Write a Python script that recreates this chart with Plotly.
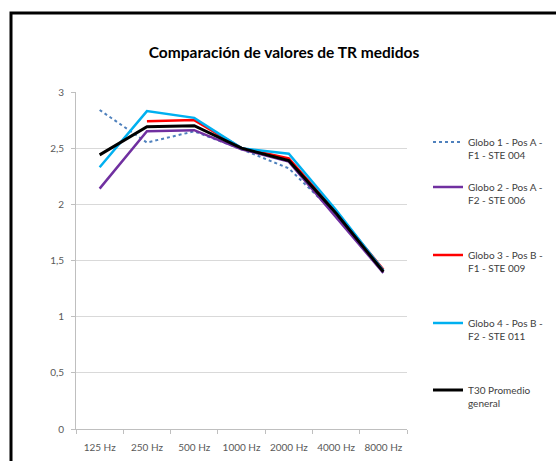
import plotly.graph_objects as go

categories = ["125 Hz", "250 Hz", "500 Hz", "1000 Hz", "2000 Hz", "4000 Hz", "8000 Hz"]
globo1 = [2.84, 2.55, 2.65, 2.49, 2.32, 1.91, 1.40]
globo2 = [2.14, 2.65, 2.66, 2.49, 2.38, 1.89, 1.39]
globo3 = [None, 2.74, 2.75, 2.50, 2.41, 1.93, 1.42]
globo4 = [2.33, 2.83, 2.77, 2.50, 2.45, 1.95, 1.41]
promedio = [2.44, 2.69, 2.70, 2.50, 2.39, 1.92, 1.40]
names = [
    "Globo 1 - Pos A -<br>F1 - STE 004",
    "Globo 2 - Pos A -<br>F2 - STE 006",
    "Globo 3 - Pos B -<br>F1 - STE 009",
    "Globo 4 - Pos B -<br>F2 - STE 011",
    "T30 Promedio<br>general",
]
y_ticks = [0, 0.5, 1, 1.5, 2, 2.5, 3]

FONT = "Lato"
series = [globo1, globo2, globo3, globo4, promedio]
colors = ["#4f81bd", "#7030a0", "#ff0000", "#00b0f0", "#000000"]
dashes = ["dot", "solid", "solid", "solid", "solid"]
widths = [2, 2.5, 2.5, 2.5, 3]
legend_ids = ["legend", "legend2", "legend3", "legend4", "legend5"]
legend_py = [140, 185, 253, 321, 388]

W, H = 556, 461
L, R, T, B = 76, 149, 92, 32
plot_w = W - L - R
plot_h = H - T - B

fig = go.Figure()
for vals, nm, c, d, w, lg in zip(series, names, colors, dashes, widths, legend_ids):
    fig.add_trace(go.Scatter(
        x=categories, y=vals, name=nm, mode="lines",
        line=dict(color=c, dash=d, width=w),
        legend=lg, connectgaps=False,
    ))

layout_legends = {}
for lg, py in zip(legend_ids, legend_py):
    layout_legends[lg] = dict(
        x=(428 - L) / plot_w, xanchor="left",
        y=(H - B - (py - 11)) / plot_h, yanchor="top",
        valign="top",
        font=dict(family=FONT, size=10, color="#404040"),
        bgcolor="rgba(0,0,0,0)",
        itemwidth=30,
    )

fig.update_layout(
    width=W, height=H,
    margin=dict(l=L, r=R, t=T, b=B, autoexpand=False),
    paper_bgcolor="white", plot_bgcolor="white",
    title=dict(text="<b>Comparación de valores de TR medidos</b>",
               x=284 / W, xanchor="center", y=1 - 53 / H, yanchor="middle",
               font=dict(family=FONT, size=15.5, color="#000000")),
    separators=",.",
    showlegend=True,
    **layout_legends,
    xaxis=dict(
        type="category", range=[-0.5, len(categories) - 0.5],
        showgrid=False, showline=True, linecolor="#bfbfbf",
        ticks="outside", ticklen=4, tickcolor="#bfbfbf", tickson="boundaries",
        ticklabelstandoff=9, tickangle=0, automargin=False,
        tickfont=dict(family=FONT, size=10, color="#595959"),
        fixedrange=True,
    ),
    yaxis=dict(
        range=[0, 3], tickvals=y_ticks, showgrid=True, gridcolor="#d9d9d9",
        showline=True, linecolor="#bfbfbf", ticks="outside", ticklen=4,
        tickcolor="#bfbfbf", zeroline=False, ticklabelstandoff=5,
        automargin=False,
        tickfont=dict(family=FONT, size=10, color="#595959"),
        fixedrange=True,
    ),
    shapes=[dict(
        type="rect", xref="paper", yref="paper",
        x0=(11 - L) / plot_w, x1=2.0,
        y0=-0.5, y1=(H - B - 13) / plot_h,
        line=dict(color="#000000", width=3), layer="below",
    )],
)

fig.write_html(
    "out.html",
    config={"displayModeBar": False, "staticPlot": True},
    post_script="document.body.style.margin='0';document.body.style.overflow='hidden';",
)
